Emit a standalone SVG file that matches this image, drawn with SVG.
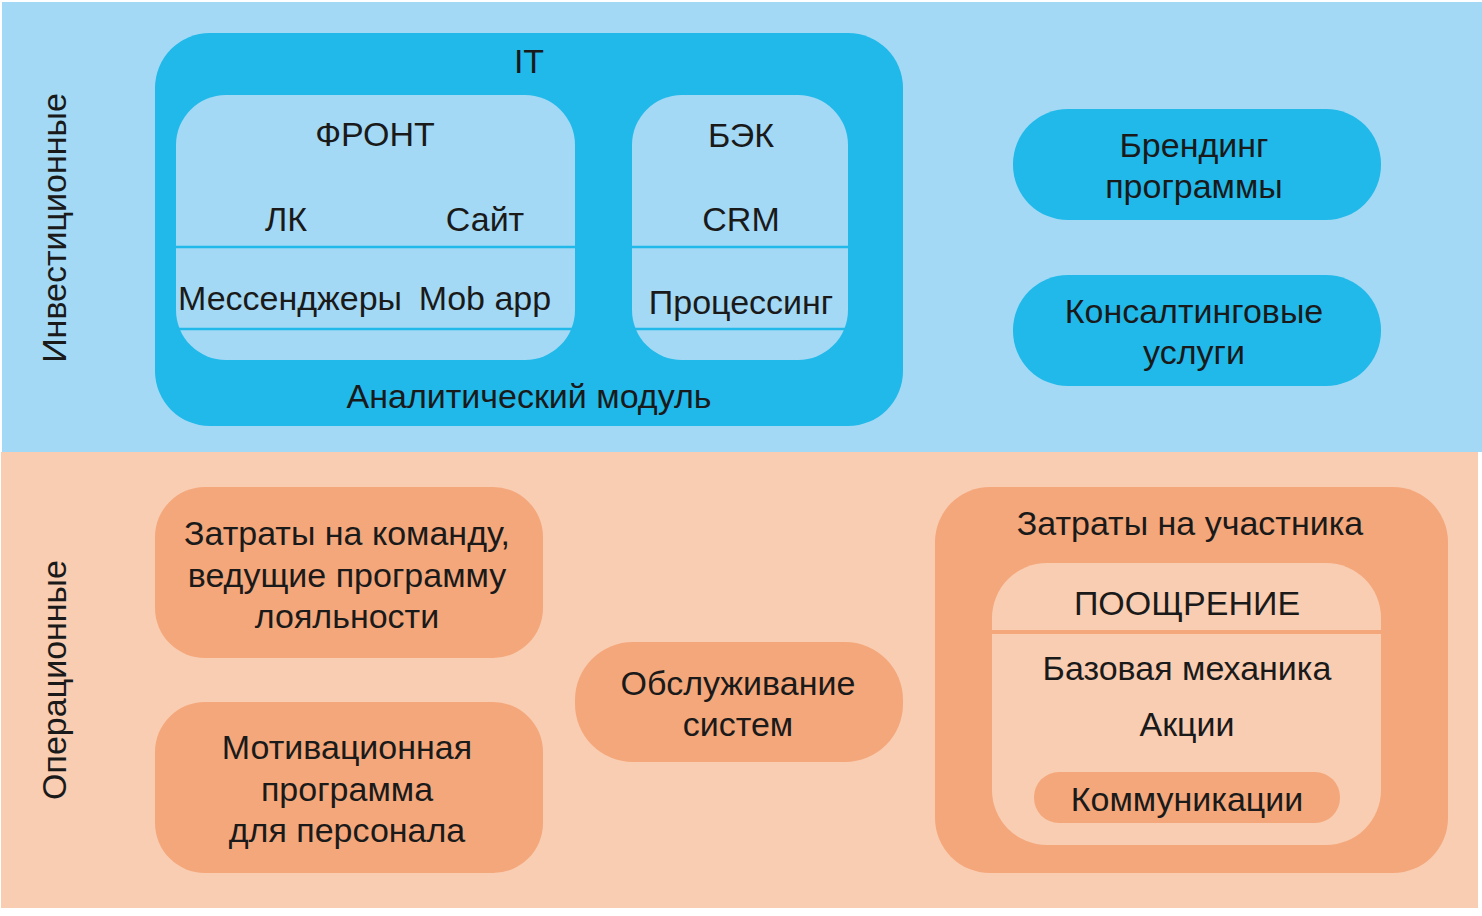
<svg xmlns="http://www.w3.org/2000/svg" width="1482" height="916" viewBox="0 0 1482 916">
<style>
text{font-family:"Liberation Sans",Arial,sans-serif;font-size:34px;fill:#1a1a1a;text-anchor:middle}
.cy{fill:#21b9ea}
.lb{fill:#a3d9f5}
.or{fill:#f4a77b}
.pe{fill:#f9cdb2}
.ln{stroke:#21b9ea;stroke-width:2.5}
.lo{stroke:#f4a77b;stroke-width:4}
</style>
<rect x="0" y="0" width="1482" height="916" fill="#ffffff"/>
<g id="bg-invest">
<rect class="lb" x="2" y="2" width="1480" height="450"/>
<text transform="translate(66,228) rotate(-90)">Инвестиционные</text>
</g>
<g id="bg-oper">
<rect class="pe" x="1" y="452" width="1477" height="456"/>
<text transform="translate(66,680) rotate(-90)">Операционные</text>
</g>
<g id="it">
<rect class="cy" x="155" y="33" width="748" height="393" rx="55"/>
<text x="529" y="73">IT</text>
<text x="529" y="408">Аналитический модуль</text>
</g>
<g id="front">
<rect class="lb" x="176" y="95" width="399" height="265" rx="50"/>
<line class="ln" x1="176" y1="247" x2="575" y2="247"/>
<line class="ln" x1="176" y1="329" x2="575" y2="329"/>
<text x="375" y="146">ФРОНТ</text>
<text x="286" y="231">ЛК</text>
<text x="485" y="231">Сайт</text>
<text x="290" y="310">Мессенджеры</text>
<text x="485" y="310">Mob app</text>
</g>
<g id="back">
<rect class="lb" x="632" y="95" width="216" height="265" rx="50"/>
<line class="ln" x1="632" y1="247" x2="848" y2="247"/>
<line class="ln" x1="632" y1="329" x2="848" y2="329"/>
<text x="741" y="147">БЭК</text>
<text x="741" y="231">CRM</text>
<text x="741" y="314">Процессинг</text>
</g>
<g id="branding">
<rect class="cy" x="1013" y="109" width="368" height="111" rx="55"/>
<text x="1194" y="157">Брендинг</text>
<text x="1194" y="198">программы</text>
</g>
<g id="consulting">
<rect class="cy" x="1013" y="275" width="368" height="111" rx="55"/>
<text x="1194" y="323">Консалтинговые</text>
<text x="1194" y="364">услуги</text>
</g>
<g id="team">
<rect class="or" x="155" y="487" width="388" height="171" rx="50"/>
<text x="347" y="545">Затраты на команду,</text>
<text x="347" y="587">ведущие программу</text>
<text x="347" y="628">лояльности</text>
</g>
<g id="motivation">
<rect class="or" x="155" y="702" width="388" height="171" rx="50"/>
<text x="347" y="759">Мотивационная</text>
<text x="347" y="801">программа</text>
<text x="347" y="842">для персонала</text>
</g>
<g id="service">
<rect class="or" x="575" y="642" width="328" height="120" rx="58"/>
<text x="738" y="695">Обслуживание</text>
<text x="738" y="736">систем</text>
</g>
<g id="participant">
<rect class="or" x="935" y="487" width="513" height="386" rx="55"/>
<text x="1190" y="535">Затраты на участника</text>
</g>
<g id="reward">
<rect class="pe" x="992" y="563" width="389" height="282" rx="55"/>
<line class="lo" x1="992" y1="632" x2="1381" y2="632"/>
<text x="1187" y="615">ПООЩРЕНИЕ</text>
<text x="1187" y="680">Базовая механика</text>
<text x="1187" y="736">Акции</text>
</g>
<g id="communications">
<rect class="or" x="1034" y="772" width="306" height="51" rx="25"/>
<text x="1187" y="811">Коммуникации</text>
</g>
<g id="connectors"></g>
</svg>
